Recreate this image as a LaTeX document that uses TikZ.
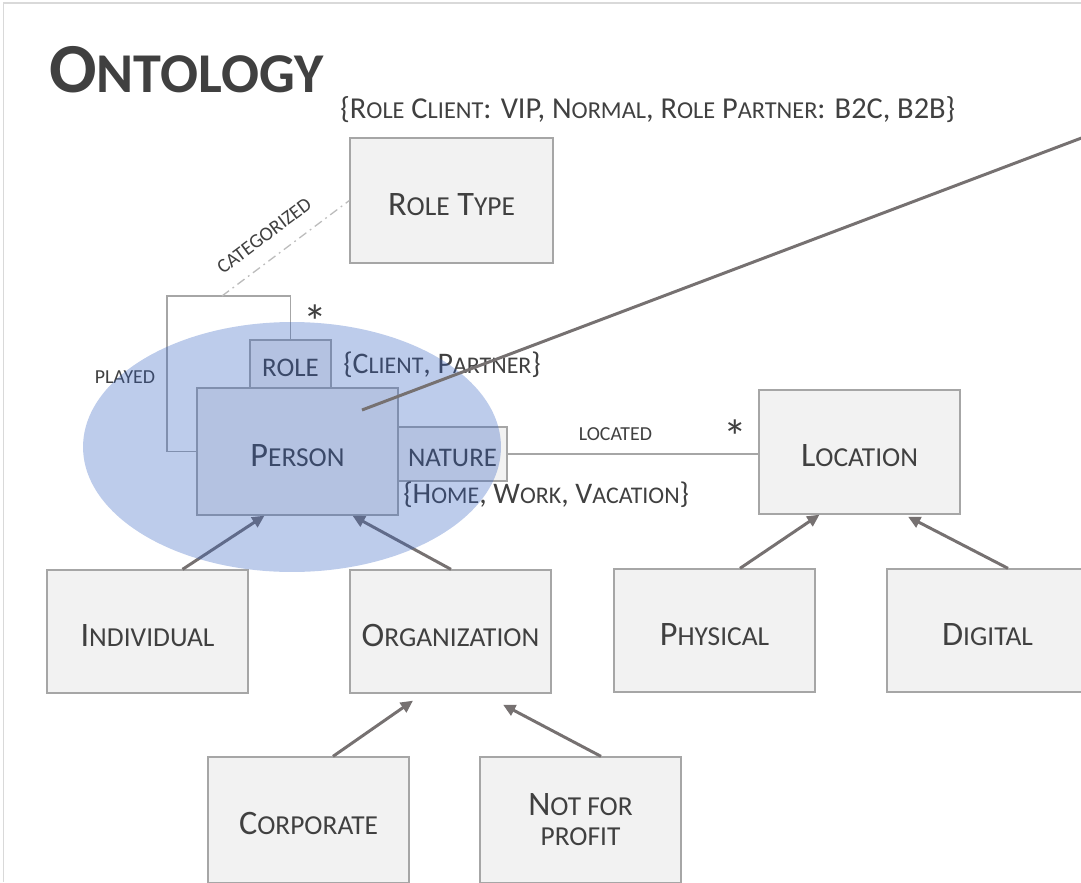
\documentclass[tikz,border=0pt]{standalone}
\usepackage{fontspec}
\setmainfont{Carlito}
\usepackage{graphicx}
\usetikzlibrary{arrows.meta, positioning, calc}
\definecolor{ontotext}{RGB}{64, 64, 64}
\definecolor{ontofill}{RGB}{242, 242, 242}
\definecolor{ontoedge}{RGB}{166, 166, 166}
\definecolor{ontoarrow}{RGB}{118, 113, 113}
\definecolor{ontoblue}{RGB}{50, 95, 192}
\definecolor{ontoframe}{RGB}{217, 217, 217}
\newcommand{\lcap}[1]{\scalebox{0.8}{#1}}

\begin{document}
\begin{tikzpicture}[
  x=0.02cm, y=-0.02cm,
  every node/.style={text=ontotext},
  box/.style={rectangle, draw=ontoedge, line width=0.75pt, fill=ontofill,
               inner sep=0pt, minimum width=4.02cm, minimum height=2.48cm,
               font=\fontsize{19.5}{17}\selectfont},
  classbox/.style={box, text height=17pt, text depth=0pt},
  slotbox/.style={box, font=\fontsize{15.3}{18}\selectfont,
               text height=13.8pt, text depth=0pt},
  setlabel/.style={font=\fontsize{17}{20}\selectfont, inner sep=0pt},
  linklabel/.style={font=\fontsize{11.3}{13}\selectfont, inner sep=0pt},
  card/.style={font=\fontsize{27}{27}\selectfont, inner sep=0pt},
  assoc/.style={draw=ontoedge, line width=0.75pt},
  isa/.style={-{Triangle[length=7pt, width=6.5pt]}, line width=1.7pt, draw=ontoarrow}
]
  \useasboundingbox (0,0) rectangle (1081,882);
  \clip (0,0) rectangle (1081,882);
  \draw[ontoframe, line width=0.9pt] (3.5,882) -- (3.5,3) -- (1081,3);

  \node[font=\fontsize{40}{44}\selectfont\bfseries, inner sep=0pt, anchor=west] (title) at (49,70) {O\lcap{NTOLOGY}};
  \node[setlabel, font=\fontsize{17.3}{20}\selectfont, anchor=west] (typeset) at (340,110) {\{R\lcap{OLE} C\lcap{LIENT}: VIP, N\lcap{ORMAL}, R\lcap{OLE} P\lcap{ARTNER}: B2C, B2B\}};

  \node[classbox, minimum width=4.06cm, minimum height=2.5cm] (roletype) at (451.5,200.5) {R\lcap{OLE} T\lcap{YPE}};
  \node[classbox, minimum height=2.54cm] (person) at (297.5,451.5) {P\lcap{ERSON}};
  \node[slotbox, minimum width=1.62cm, minimum height=0.96cm] (role) at (290.5,364) {ROLE};
  \node[slotbox, minimum width=2.18cm, minimum height=1.08cm] (nature) at (452.5,454) {NATURE};
  \node[classbox] (location) at (859.5,452) {L\lcap{OCATION}};
  \node[classbox, minimum height=2.46cm] (individual) at (147.5,631.5) {I\lcap{NDIVIDUAL}};
  \node[classbox, minimum height=2.46cm] (organization) at (450.5,631.5) {O\lcap{RGANIZATION}};
  \node[classbox, minimum height=2.46cm] (physical) at (714.5,630.5) {P\lcap{HYSICAL}};
  \node[classbox, minimum height=2.46cm] (digital) at (987.5,630.5) {D\lcap{IGITAL}};
  \node[classbox, minimum height=2.52cm] (corporate) at (308.5,820) {C\lcap{ORPORATE}};
  \node[box, minimum height=2.52cm, align=center] (notprofit) at (580.5,820) {N\lcap{OT FOR}\\\lcap{PROFIT}};

  \node[setlabel, anchor=west] (roleset) at (343,365) {\{C\lcap{LIENT}, P\lcap{ARTNER}\}};
  \node[setlabel, anchor=west] (natureset) at (403,495) {\{H\lcap{OME}, W\lcap{ORK}, V\lcap{ACATION}\}};
  \node[card] (rolemult) at (315,322) {*};
  \node[linklabel] (played) at (125,377) {PLAYED};

  % role played by a person
  \coordinate (loopcorner) at (167,296);
  \coordinate (catfoot) at (222,296);
  \draw[assoc] (role.north) |- (loopcorner) |- (person.west);
  \draw[assoc, draw=ontoedge!75, dash pattern=on 5pt off 2.5pt on 1pt off 2.5pt]
    (catfoot) -- node[linklabel, sloped, pos=0.44, above=9pt] {CATEGORIZED} (roletype.west);
  \draw[assoc] (nature.east) -- node[linklabel, pos=0.43, above=7pt] {LOCATED}
    node[card, pos=0.91, above=0pt] {*} (nature.east -| location.west);

  % generalisations
  \draw[isa] ($(individual.north)+(35,0)$) -- ($(person.south)+(-33,0)$);
  \draw[isa] ($(organization.north)+(0.5,0)$) -- ($(person.south)+(55,0)$);
  \draw[isa] ($(physical.north)+(25.5,0)$) -- ($(location.south)+(-40,0)$);
  \draw[isa] ($(digital.north)+(20.5,0)$) -- ($(location.south)+(48.5,2)$);
  \draw[isa] ($(corporate.north)+(24.5,0)$) -- ($(organization.south)+(-37.5,7)$);
  \draw[isa] ($(notprofit.north)+(20.5,0)$) -- ($(organization.south)+(52.5,11)$);

  \fill[ontoblue, opacity=0.32] (292,447) ellipse [x radius=4.18cm, y radius=2.5cm];

  \coordinate (callout) at (1100,131);
  \draw[ontoarrow, line width=1.7pt] ($(person.center)+(64.5,-41.5)$) -- (callout);
\end{tikzpicture}
\end{document}
